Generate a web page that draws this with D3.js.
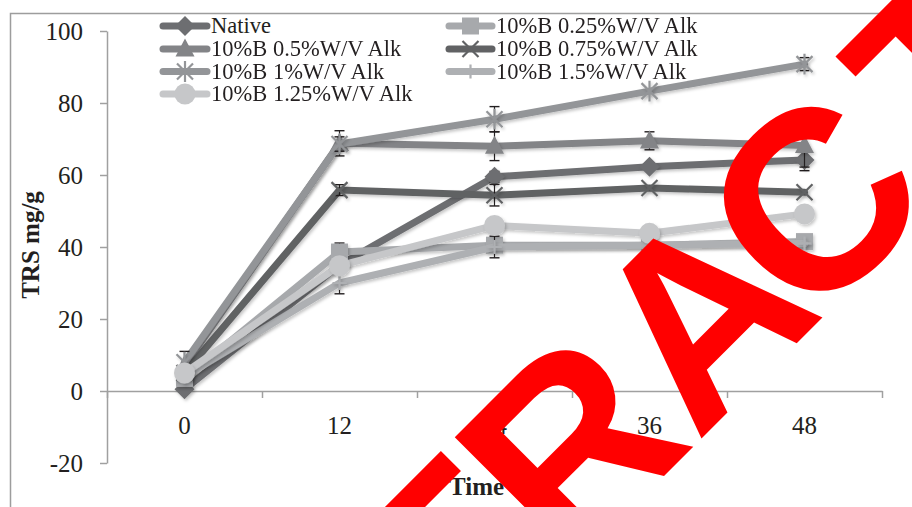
<!DOCTYPE html>
<html><head><meta charset="utf-8">
<script src="https://cdn.jsdelivr.net/npm/d3@7"></script>
<style>body{margin:0;background:#fff}svg{display:block}</style>
</head><body>
<script>
const categories = ["0","12","24","36","48"];
const yTicks = [-20,0,20,40,60,80,100];
const seriesNames = ["Native","10%B 0.25%W/V Alk","10%B 0.5%W/V Alk","10%B 0.75%W/V Alk","10%B 1%W/V Alk","10%B 1.5%W/V Alk","10%B 1.25%W/V Alk"];
const nativeVals = [0.5, 35, 59.5, 62.3, 64.2];
const alk025Vals = [3.5, 38.6, 40.5, 40.5, 41.5];
const alk05Vals  = [7, 68.8, 68, 69.5, 68.2];
const alk075Vals = [5, 55.8, 54.4, 56.4, 55.2];
const alk1Vals   = [8, 68.6, 75.5, 83.3, 90.8];
const alk15Vals  = [4, 30, 40, 40.5, 41];
const alk125Vals = [5, 34.8, 46, 43.8, 49.2];
const nativeErr = [0, 0, 1.5, 1, 3];
const alk025Err = [0, 2.5, 0, 0, 0];
const alk05Err  = [0, 3.5, 4, 2.5, 6];
const alk075Err = [0, 1.5, 3, 0, 0];
const alk1Err   = [3, 2, 3.5, 0, 1.8];
const alk15Err  = [0, 3, 3, 0, 0];
const alk125Err = [0, 0, 0, 0, 0];

const W = 912, H = 507;
const svg = d3.select("body").append("svg").attr("width", W).attr("height", H);
const defs = svg.append("defs");
const f = defs.append("filter").attr("id","sh").attr("x","-20%").attr("y","-20%").attr("width","140%").attr("height","140%");
f.append("feDropShadow").attr("dx",1.5).attr("dy",2).attr("stdDeviation",1.5).attr("flood-color","#000").attr("flood-opacity",0.22);

svg.append("rect").attr("x",10.5).attr("y",13.5).attr("width",940).attr("height",540)
  .attr("fill","none").attr("stroke","#9d9d9d").attr("stroke-width",1.5);

const x = d3.scaleBand().domain(categories).range([107, 882]);
const xc = c => x(c) + x.bandwidth()/2;
const y = d3.scaleLinear().domain([-20,100]).range([463, 31]);

const axisColor = "#a0a0a0";
const textColor = "#231f20";
const serif = "'Liberation Serif','Times New Roman',Times,serif";

const gy = svg.append("g").attr("transform","translate(107,0)")
  .call(d3.axisLeft(y).tickValues(yTicks).tickSize(7).tickSizeOuter(0).tickPadding(17).tickFormat(d => String(d)));
gy.attr("font-family", serif);
gy.select(".domain").attr("stroke",axisColor).attr("stroke-width",1.5);
gy.selectAll(".tick line").attr("stroke",axisColor).attr("stroke-width",1.5);
gy.selectAll(".tick text").style("font-family",serif).attr("font-size",25).attr("fill",textColor);

const xi = d3.scaleLinear().domain([0, categories.length]).range([107, 882]);
const gx = svg.append("g").attr("transform",`translate(0,${y(0)})`)
  .call(d3.axisBottom(xi).ticks(categories.length).tickSize(7).tickSizeOuter(0).tickFormat(""));
gx.select(".domain").attr("stroke",axisColor).attr("stroke-width",1.5);
gx.selectAll(".tick line").attr("stroke",axisColor).attr("stroke-width",1.5);
const gxl = svg.append("g").attr("transform",`translate(0,${y(0)})`)
  .call(d3.axisBottom(x).tickSize(0).tickPadding(25));
gxl.attr("font-family", serif);
gxl.select(".domain").remove();
gxl.selectAll(".tick text").style("font-family",serif).attr("font-size",25).attr("fill",textColor);

svg.append("text").attr("transform","translate(39,245) rotate(-90)").attr("text-anchor","middle")
  .style("font-family",serif).attr("font-weight","bold").attr("font-size",25).attr("fill",textColor).text("TRS mg/g");
svg.append("text").attr("x",449).attr("y",495)
  .style("font-family",serif).attr("font-weight","bold").attr("font-size",25).attr("fill",textColor).text("Time");

const diamond = {draw(ctx, s){ const r=s; ctx.moveTo(0,-r);ctx.lineTo(r,0);ctx.lineTo(0,r);ctx.lineTo(-r,0);ctx.closePath(); }};
const square = {draw(ctx, s){ ctx.rect(-s,-s,2*s,2*s); }};
const triangle = {draw(ctx, s){ ctx.moveTo(0,-s*1.1);ctx.lineTo(s,s*0.8);ctx.lineTo(-s,s*0.8);ctx.closePath(); }};
const circle = {draw(ctx, s){ ctx.moveTo(s,0); ctx.arc(0,0,s,0,2*Math.PI); }};
const cross = {draw(ctx, s){ ctx.moveTo(-s,-s);ctx.lineTo(s,s);ctx.moveTo(s,-s);ctx.lineTo(-s,s); }};
const aster = {draw(ctx, s){ ctx.moveTo(-s,-s);ctx.lineTo(s,s);ctx.moveTo(s,-s);ctx.lineTo(-s,s);ctx.moveTo(0,-s*1.3);ctx.lineTo(0,s*1.3); }};
const plus = {draw(ctx, s){ ctx.moveTo(-s,0);ctx.lineTo(s,0);ctx.moveTo(0,-s);ctx.lineTo(0,s); }};

const series = [
  {name:seriesNames[0], vals:nativeVals, err:nativeErr, color:"#6d6e71", sym:diamond, size:10, fill:true},
  {name:seriesNames[1], vals:alk025Vals, err:alk025Err, color:"#a7a9ac", sym:square, size:8.5, fill:true},
  {name:seriesNames[2], vals:alk05Vals, err:alk05Err, color:"#838487", sym:triangle, size:9.5, fill:true},
  {name:seriesNames[3], vals:alk075Vals, err:alk075Err, color:"#616264", sym:cross, size:8, fill:false},
  {name:seriesNames[4], vals:alk1Vals, err:alk1Err, color:"#939598", sym:aster, size:8, fill:false},
  {name:seriesNames[5], vals:alk15Vals, err:alk15Err, color:"#aeb0b3", sym:plus, size:7, fill:false},
  {name:seriesNames[6], vals:alk125Vals, err:alk125Err, color:"#c6c7c9", sym:circle, size:10.5, fill:true}
];

const line = d3.line().x((d,i) => xc(categories[i])).y(d => y(d));
const plot = svg.append("g");
function drawMarker(g, s, px, py){
  const p = d3.symbol().type(s.sym).size(s.size)();
  const m = g.append("path").attr("d", p).attr("transform",`translate(${px},${py})`);
  if (s.fill) m.attr("fill", s.color).attr("stroke","none");
  else m.attr("fill","none").attr("stroke", s.color).attr("stroke-width",2.2);
}
series.forEach(s => {
  const g = plot.append("g").attr("filter","url(#sh)");
  g.append("path").datum(s.vals).attr("d", line).attr("fill","none")
    .attr("stroke", s.color).attr("stroke-width",7).attr("stroke-linejoin","round").attr("stroke-linecap","round");
  const eg = plot.append("g");
  s.vals.forEach((v,i) => {
    const e = s.err[i]; if (!e) return;
    const cx = xc(categories[i]);
    const y1 = y(v+e), y2 = y(v-e);
    eg.append("line").attr("x1",cx).attr("x2",cx).attr("y1",y1).attr("y2",y2).attr("stroke",textColor).attr("stroke-width",1.2);
    [y1,y2].forEach(yy => eg.append("line").attr("x1",cx-5).attr("x2",cx+5).attr("y1",yy).attr("y2",yy).attr("stroke",textColor).attr("stroke-width",1.4));
  });
  const mg = plot.append("g").attr("filter","url(#sh)");
  s.vals.forEach((v,i) => drawMarker(mg, s, xc(categories[i]), y(v)));
});

const legPos = [[160,26],[446,26],[160,49],[446,49],[160,71.5],[446,71.5],[160,94]];
const legW = [50,49,50,49,50,49,50];
series.forEach((s,i) => {
  const [lx, ly] = legPos[i];
  const g = svg.append("g");
  g.append("line").attr("x1",lx+3).attr("x2",lx+legW[i]-3).attr("y1",ly).attr("y2",ly)
    .attr("stroke",s.color).attr("stroke-width",7).attr("stroke-linecap","round");
  drawMarker(g, s, lx + legW[i]/2, ly);
  g.append("text").attr("x", lx+legW[i]+1).attr("y", ly).attr("dy","0.33em")
    .style("font-family",serif).attr("font-size",22.5).attr("fill",textColor).text(s.name);
});

// retraction stamp: place so that the 'A' start sits on its reference baseline point
const stampFont = 255;
const stamp = svg.append("text").attr("x",0).attr("y",0).attr("dx","0 0 0 0 0 -24 24 0 0")
  .style("font-family","'Liberation Sans',Arial,sans-serif").attr("font-weight","bold").attr("font-size",stampFont)
  .attr("fill","#ff0000").text("RETRACTED");
const posA = stamp.node().getStartPositionOfChar(4).x;
stamp.attr("transform",`translate(697,443) rotate(-45) translate(${-posA},0)`);
</script>
</body></html>
